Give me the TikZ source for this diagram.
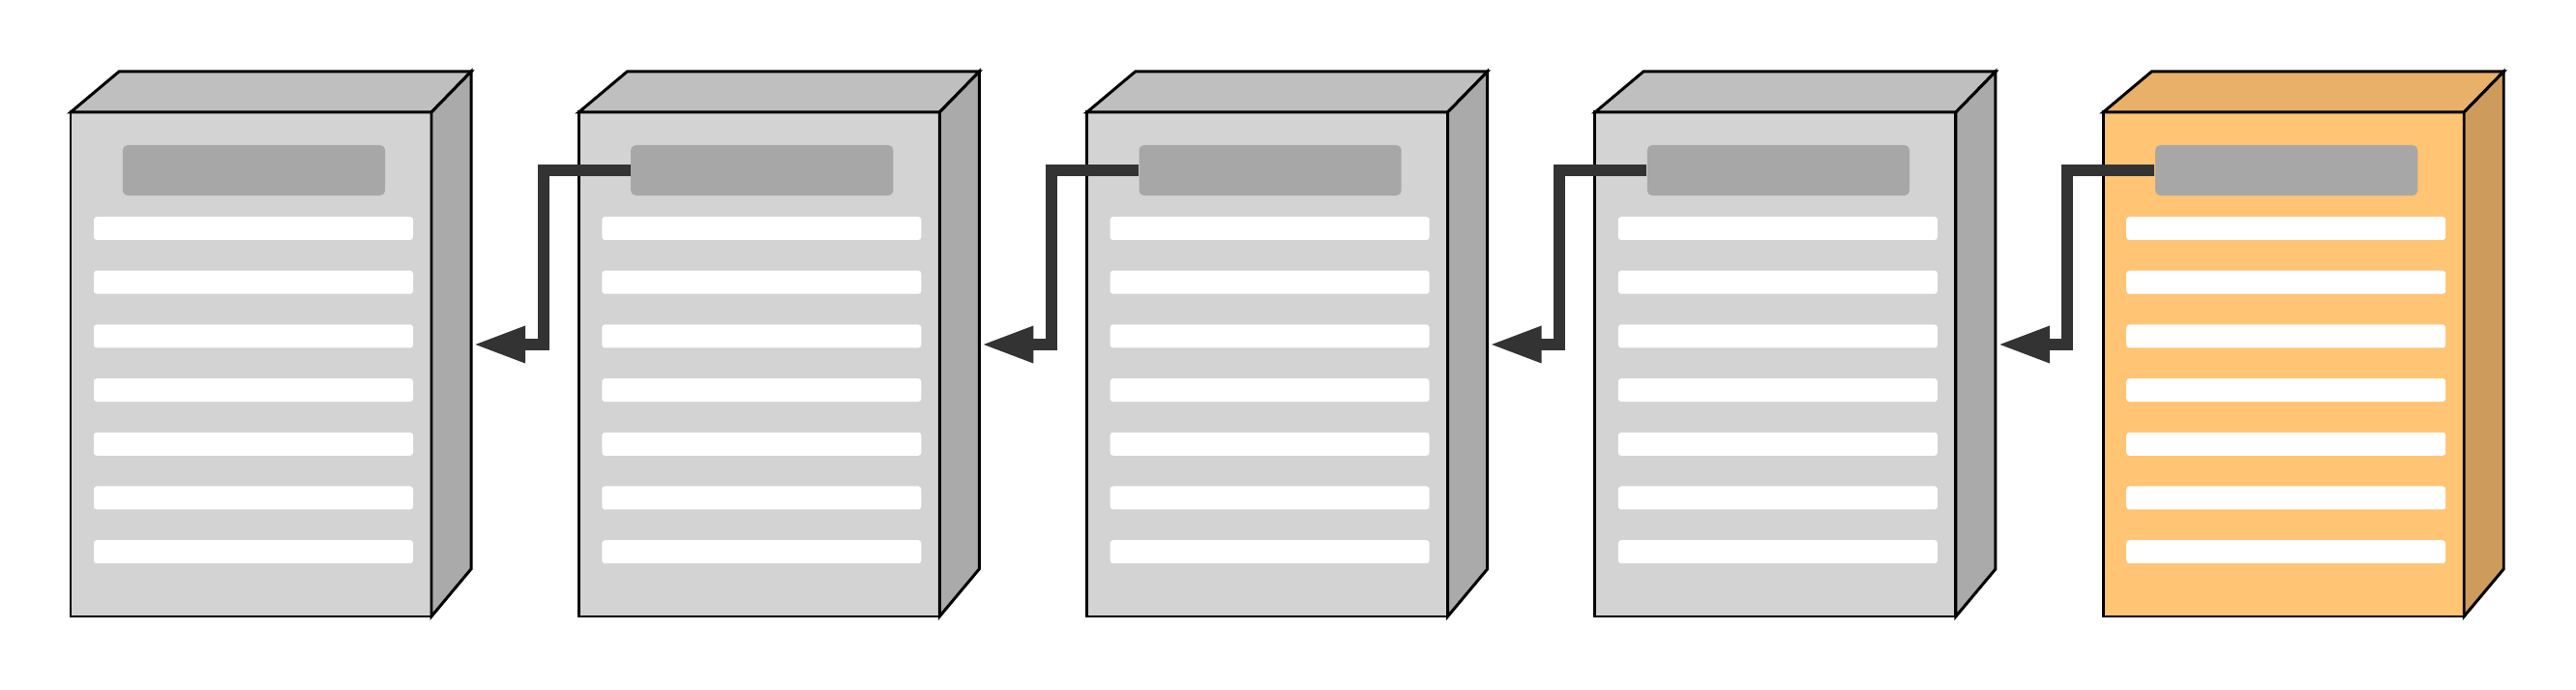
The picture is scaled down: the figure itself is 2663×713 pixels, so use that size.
\documentclass[tikz,border=0pt]{standalone}
\usepackage{tikz}
\usetikzlibrary{arrows.meta}
\usepackage{xcolor}
\definecolor{frontgray}{RGB}{211, 211, 211}
\definecolor{topgray}{RGB}{191, 191, 191}
\definecolor{sidegray}{RGB}{170, 170, 170}
\definecolor{frontorg}{RGB}{255, 196, 116}
\definecolor{toporg}{RGB}{232, 176, 104}
\definecolor{sideorg}{RGB}{205, 156, 92}
\definecolor{hdrgray}{RGB}{167, 167, 167}
\definecolor{linkc}{RGB}{51, 51, 51}

\tikzset{
  boxline/.style={draw=black, line width=0.85pt},
  header/.style={fill=hdrgray, rounded corners=0.05cm, inner sep=0pt,
    minimum width=2.71cm, minimum height=0.52cm},
  rowbar/.style={fill=white, rounded corners=0.03cm},
  link/.style={draw=linkc, line width=3.4pt,
    -{Triangle[length=0.54cm, width=0.35cm]}}
}

\begin{document}
\begin{tikzpicture}[x=0.01cm, y=-0.01cm]
  \useasboundingbox (0,0) rectangle (2663,713);
  \foreach \i/\fc/\tc/\sc in {1/frontgray/topgray/sidegray, 2/frontgray/topgray/sidegray,
      3/frontgray/topgray/sidegray, 4/frontgray/topgray/sidegray, 5/frontorg/toporg/sideorg} {
    \begin{scope}[xshift=(\i-1)*5.25cm]
      \draw[boxline, fill=\fc] (73, 116) rectangle (446, 637);
      \draw[boxline, fill=\tc] (73, 116)--(123, 74)--(487, 74)--(446, 116)--cycle;
      \draw[boxline, fill=\sc] (446, 116)--(487, 74)--(487, 588)--(446, 637)--cycle;
      \node[header] (hdr\i) at (262.5, 176) {};
      \foreach \r in {0,...,6}
        \fill[rowbar] (97, 224+55.7*\r) rectangle (427, 248+55.7*\r);
      \coordinate (in\i) at (489, 356);
    \end{scope}
  }
  \foreach \i/\j in {2/1, 3/2, 4/3, 5/4}
    \draw[link] (hdr\i.west) -- ++(-90, 0) |- (in\j);
\end{tikzpicture}
\end{document}
